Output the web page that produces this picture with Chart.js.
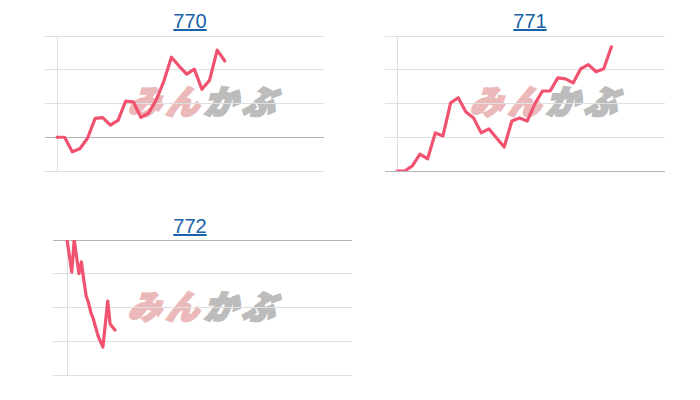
<!DOCTYPE html>
<html><head><meta charset="utf-8">
<script src="https://cdn.jsdelivr.net/npm/chart.js@4.4.1/dist/chart.umd.min.js"></script>
<style>
body{margin:0;background:#fff;width:700px;height:400px;position:relative;overflow:hidden;font-family:'Liberation Sans',Arial,sans-serif;}
.title{position:absolute;width:120px;text-align:center;font-size:20px;line-height:20px;color:#1a62a8;text-decoration:underline;}
.wm{position:absolute;width:240px;text-align:center;font-family:'Noto Sans CJK JP',sans-serif;font-weight:900;font-size:33px;line-height:34px;letter-spacing:5px;white-space:nowrap;transform:skewX(-18deg);}
.wm .a{color:#ebb9b9;-webkit-text-stroke:2.5px #ebb9b9;}
.wm .b{color:#bcbcbc;-webkit-text-stroke:2.5px #bcbcbc;}
canvas{position:absolute;}
</style>
</head>
<body>
<a class="title" style="left:130px;top:11px">770</a>
<a class="title" style="left:470px;top:11px">771</a>
<a class="title" style="left:130px;top:216px">772</a>
<div class="wm" style="left:88px;top:83px"><span class="a">みん</span><span class="b">かぶ</span></div>
<div class="wm" style="left:430px;top:83px"><span class="a">みん</span><span class="b">かぶ</span></div>
<div class="wm" style="left:88px;top:288px"><span class="a">みん</span><span class="b">かぶ</span></div>
<canvas id="c1" width="279" height="143" style="left:45px;top:32px"></canvas>
<canvas id="c2" width="280" height="143" style="left:385px;top:32px"></canvas>
<canvas id="c3" width="299" height="143" style="left:53px;top:236px"></canvas>
<script>
// Chart titles (fund codes)
const titles = ['770', '771', '772'];
// Categories: period index along the x axis (no labels shown)
const periods770 = Array.from({length: 36}, (_, i) => String(i + 1));
const periods771 = Array.from({length: 36}, (_, i) => String(i + 1));
const periods772 = Array.from({length: 120}, (_, i) => String(i + 1));
// Series values (cumulative return, %)
const series770 = [0, 0, -4.3, -3.4, -0.3, 5.6, 5.8, 3.6, 5.0, 10.7, 10.5, 5.9, 7.1, 11.0, 16.6, 23.7, 21.1, 18.7, 20.2, 14.2, 16.9, 25.8, 22.6];
const series771 = [0, 0, 1.5, 5.0, 3.6, 11.3, 10.4, 20.2, 21.7, 17.5, 15.7, 11.3, 12.5, 9.8, 7.1, 14.8, 15.7, 14.8, 19.9, 23.7, 23.7, 27.6, 27.3, 26.1, 30.3, 31.5, 29.4, 30.3, 36.8];
const series772 = [0, -4.7, -9.5, 0, -5.0, -10.0, -6.5, -11.8, -16.6, -18.7, -21.6, -23.4, -26.0, -28.4, -30.2, -31.7, -24.9, -18.1, -24.9, -25.8, -26.7];
// Y ranges (tick labels hidden)
const yRange770 = [-10, 30];
const yRange771 = [0, 40];
const yRange772 = [-40, 0];

function makeChart(id, labels, data, range, tickLen) {
  new Chart(document.getElementById(id), {
    type: 'line',
    data: {
      labels: labels,
      datasets: [{
        data: data,
        borderColor: 'rgb(240,82,112)',
        borderWidth: 3.2,
        borderJoinStyle: 'round',
        borderCapStyle: 'round',
        pointRadius: 0,
        tension: 0,
        fill: false
      }]
    },
    options: {
      responsive: false,
      animation: false,
      layout: {padding: {top: 4, bottom: 4, left: 0, right: 0}},
      plugins: {legend: {display: false}, tooltip: {enabled: false}, title: {display: false}},
      scales: {
        x: {display: false, offset: false},
        y: {
          min: range[0], max: range[1],
          ticks: {display: false, stepSize: 10},
          border: {display: true, color: '#dedede', width: 1},
          grid: {
            drawTicks: true,
            tickLength: tickLen,
            color: (ctx) => (ctx.tick && ctx.tick.value === 0) ? '#b4b4b4' : '#e0e0e0',
            lineWidth: 1
          }
        }
      }
    }
  });
}
makeChart('c1', periods770, series770, yRange770, 12);
makeChart('c2', periods771, series771, yRange771, 12);
makeChart('c3', periods772, series772, yRange772, 14);
</script>
</body></html>
